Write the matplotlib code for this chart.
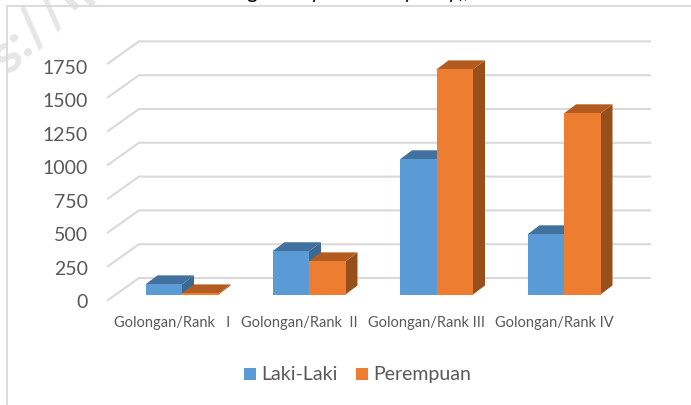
import matplotlib
matplotlib.use("Agg")
import matplotlib.pyplot as plt
from matplotlib.patches import Polygon, Rectangle

categories = ["Golongan/Rank   I", "Golongan/Rank  II", "Golongan/Rank III", "Golongan/Rank IV"]
laki = [75, 320, 1000, 445]
perempuan = [8, 245, 1665, 1340]
ticks = [0, 250, 500, 750, 1000, 1250, 1500, 1750]
series = [("Laki-Laki", laki, "#5B9BD5", "#41719C", "#3A6A94"),
          ("Perempuan", perempuan, "#ED7D31", "#B45C20", "#974F1C")]

W, H = 691, 406
plt.rcParams["font.family"] = ["Lato", "DejaVu Sans"]
fig = plt.figure(figsize=(W / 100, H / 100), dpi=100)

x0, x1, base = 108, 650, 295.5
ppv = 33.8 / 250
top = 5
ax = fig.add_axes([x0 / W, 1 - base / H, (x1 - x0) / W, (base - top) / H])
ax.set_xlim(x0, x1)
ax.set_ylim(0, (base - top) / ppv)
ax.axis("off")

grid = "#D9D9D9"
for t in ticks:
    y_front = t - 5.5 / ppv
    y_back = t + 16.5 / ppv
    ax.plot([108, 139, 650], [y_front, y_back, y_back], color=grid, lw=1.5, clip_on=False,
            solid_joinstyle="miter", zorder=1)
    ax.text(88, t * 0.99 - 7 / ppv, str(t), ha="right", va="center", fontsize=14,
            color="#595959", clip_on=False)

starts = [145.5, 272.5, 400, 527.5]
bw = 36.5
ddx, ddy = 12, 9 / ppv
for (name, vals, front, topc, side), off in zip(series, (0, bw)):
    z = 3 + (off > 0)
    for s, v in zip(starts, vals):
        l = s + off
        r = l + bw
        ax.add_patch(Polygon([(r, 0), (r + ddx, ddy), (r + ddx, v + ddy), (r, v)], fc=side, ec="none", zorder=z))
        ax.add_patch(Polygon([(l, v), (l + ddx, v + ddy), (r + ddx, v + ddy), (r, v)], fc=topc, ec="none", zorder=z))
        ax.add_patch(Rectangle((l, 0), bw, v, fc=front, ec="none", zorder=z))

for s, c in zip(starts, categories):
    ax.text(s + 26.5, -28 / ppv, c, ha="center", va="center", fontsize=10.5, color="#595959", clip_on=False)

# outer frame
fig.add_artist(plt.Line2D([6.5 / W, 6.5 / W, 1], [0, 1 - 6.5 / H, 1 - 6.5 / H], color="#D9D9D9", lw=1.3,
                          transform=fig.transFigure))

# legend
for px, tx, name, col in [(244, 261, "Laki-Laki", "#5B9BD5"), (356, 373, "Perempuan", "#ED7D31")]:
    fig.add_artist(Rectangle((px / W, 1 - 381 / H), 12 / W, 12 / H, fc=col, ec="none", transform=fig.transFigure))
    fig.text(tx / W, 1 - 374.5 / H, name, ha="left", va="center", fontsize=14, color="#595959")

# watermark fragment
fig.text(46 / W, 1 - 16 / H, "s://lp", rotation=45, ha="center", va="center", fontsize=40,
         fontweight="bold", color="#E6E6E6", zorder=0)

# title: only the descenders of the clipped title show at the top edge
for px, glyph in [(252, "g"), (315, "y"), (408, "y"), (452, "y"), (464, "),")]:
    fig.text(px / W, 1 + 2.5 / H, glyph, ha="center", va="baseline", fontsize=15, color="black")

fig.savefig("out.png", dpi=100)
